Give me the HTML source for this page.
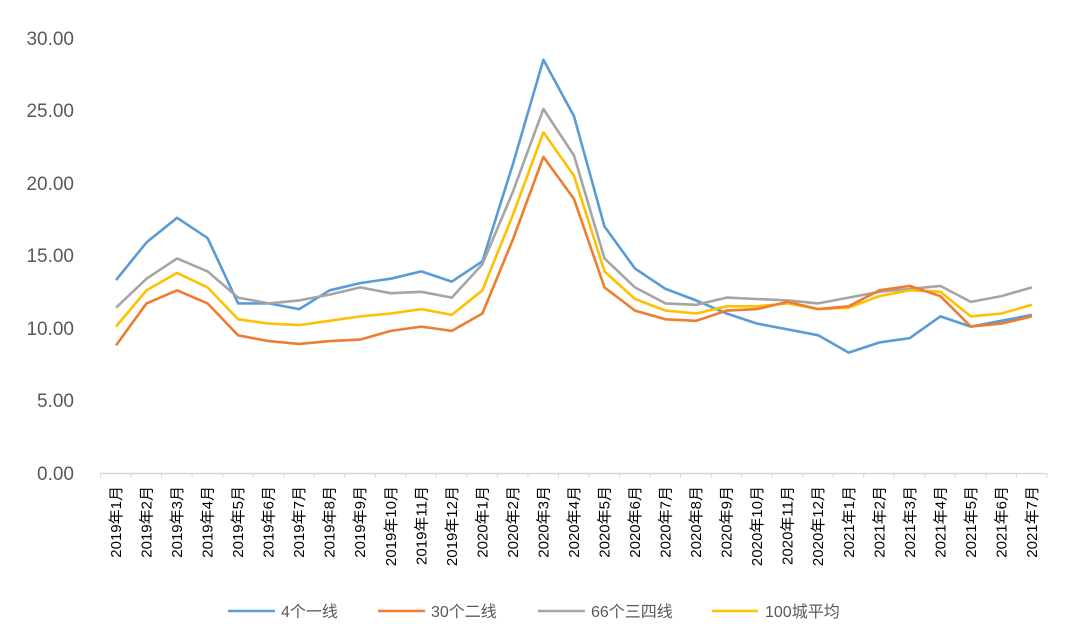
<!DOCTYPE html>
<html><head><meta charset="utf-8"><style>
html,body{margin:0;padding:0;background:#fff;}
svg{display:block;font-family:"Liberation Sans","Noto Sans CJK SC",sans-serif;}
</style></head><body>
<svg id="c" width="1080" height="638" viewBox="0 0 1080 638" xmlns="http://www.w3.org/2000/svg">
<g fill="#595959" font-size="19" text-anchor="end">
<text x="74" y="45">30.00</text>
<text x="74" y="117">25.00</text>
<text x="74" y="190">20.00</text>
<text x="74" y="262">15.00</text>
<text x="74" y="335">10.00</text>
<text x="74" y="407">5.00</text>
<text x="74" y="480">0.00</text>
</g>
<line x1="100" y1="473.5" x2="1047" y2="473.5" stroke="#d9d9d9" stroke-width="1.5"/>
<g id="ticks" stroke="#d9d9d9" stroke-width="1"></g>
<g id="series" fill="none" stroke-width="2.6" stroke-linejoin="round"></g>
<g fill="#000" font-size="15" text-anchor="end" id="cats">
<text transform="translate(121,486) rotate(-90)">2019年1月</text>
<text transform="translate(151.5,486) rotate(-90)">2019年2月</text>
<text transform="translate(182,486) rotate(-90)">2019年3月</text>
<text transform="translate(212.6,486) rotate(-90)">2019年4月</text>
<text transform="translate(243.1,486) rotate(-90)">2019年5月</text>
<text transform="translate(273.7,486) rotate(-90)">2019年6月</text>
<text transform="translate(304.2,486) rotate(-90)">2019年7月</text>
<text transform="translate(334.7,486) rotate(-90)">2019年8月</text>
<text transform="translate(365.2,486) rotate(-90)">2019年9月</text>
<text transform="translate(395.8,486) rotate(-90)">2019年10月</text>
<text transform="translate(426.3,486) rotate(-90)">2019年11月</text>
<text transform="translate(456.8,486) rotate(-90)">2019年12月</text>
<text transform="translate(487.4,486) rotate(-90)">2020年1月</text>
<text transform="translate(517.9,486) rotate(-90)">2020年2月</text>
<text transform="translate(548.4,486) rotate(-90)">2020年3月</text>
<text transform="translate(579,486) rotate(-90)">2020年4月</text>
<text transform="translate(609.5,486) rotate(-90)">2020年5月</text>
<text transform="translate(640,486) rotate(-90)">2020年6月</text>
<text transform="translate(670.6,486) rotate(-90)">2020年7月</text>
<text transform="translate(701.1,486) rotate(-90)">2020年8月</text>
<text transform="translate(731.6,486) rotate(-90)">2020年9月</text>
<text transform="translate(762.2,486) rotate(-90)">2020年10月</text>
<text transform="translate(792.7,486) rotate(-90)">2020年11月</text>
<text transform="translate(823.2,486) rotate(-90)">2020年12月</text>
<text transform="translate(853.8,486) rotate(-90)">2021年1月</text>
<text transform="translate(884.3,486) rotate(-90)">2021年2月</text>
<text transform="translate(914.8,486) rotate(-90)">2021年3月</text>
<text transform="translate(945.4,486) rotate(-90)">2021年4月</text>
<text transform="translate(975.9,486) rotate(-90)">2021年5月</text>
<text transform="translate(1006.4,486) rotate(-90)">2021年6月</text>
<text transform="translate(1037,486) rotate(-90)">2021年7月</text>
</g>
<g stroke-width="2.6">
<line x1="228" y1="611" x2="275" y2="611" stroke="#5b9bd5"/>
<line x1="378" y1="611" x2="425" y2="611" stroke="#ed7d31"/>
<line x1="538" y1="611" x2="585" y2="611" stroke="#a5a5a5"/>
<line x1="712" y1="611" x2="758" y2="611" stroke="#ffc000"/>
</g>
<g fill="#595959" font-size="16">
<text x="281" y="617">4个一线</text>
<text x="431" y="617">30个二线</text>
<text x="591" y="617">66个三四线</text>
<text x="765" y="617">100城平均</text>
</g>
</svg>
<script>
var d={
"#5b9bd5":[13.3,15.9,17.6,16.2,11.7,11.7,11.3,12.6,13.1,13.4,13.9,13.2,14.6,21.3,28.5,24.6,17.0,14.1,12.7,11.9,11.0,10.3,9.9,9.5,8.3,9.0,9.3,10.8,10.1,10.5,10.9],
"#a5a5a5":[11.4,13.4,14.8,13.9,12.1,11.7,11.9,12.3,12.8,12.4,12.5,12.1,14.4,19.4,25.1,21.9,14.8,12.8,11.7,11.6,12.1,12.0,11.9,11.7,12.1,12.5,12.7,12.9,11.8,12.2,12.8],
"#ffc000":[10.1,12.6,13.8,12.8,10.6,10.3,10.2,10.5,10.8,11.0,11.3,10.9,12.6,17.8,23.5,20.5,13.9,12.0,11.2,11.0,11.5,11.5,11.7,11.3,11.4,12.2,12.6,12.5,10.8,11.0,11.6],
"#ed7d31":[8.8,11.7,12.6,11.7,9.5,9.1,8.9,9.1,9.2,9.8,10.1,9.8,11.0,16.1,21.8,18.9,12.8,11.2,10.6,10.5,11.2,11.3,11.8,11.3,11.5,12.6,12.9,12.2,10.1,10.3,10.8]};
var ns="http://www.w3.org/2000/svg",g=document.getElementById("series"),t=document.getElementById("ticks");
for(var k in d){var p=d[k].map(function(v,i){return (116+i*30.53).toFixed(1)+","+(473-v*14.5).toFixed(1)}).join(" ");
var e=document.createElementNS(ns,"polyline");e.setAttribute("points",p);e.setAttribute("stroke",k);g.appendChild(e);}
for(var i=0;i<=31;i++){var x=100.5+i*30.53;var l=document.createElementNS(ns,"line");l.setAttribute("x1",x);l.setAttribute("x2",x);l.setAttribute("y1",473);l.setAttribute("y2",478);t.appendChild(l);}
</script>
</body></html>
